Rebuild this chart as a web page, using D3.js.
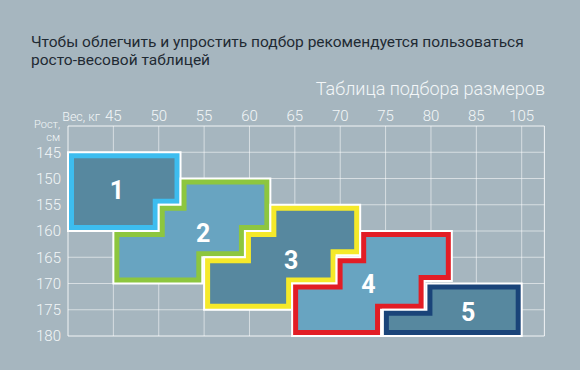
<!DOCTYPE html>
<html>
<head>
<meta charset="utf-8">
<script src="https://cdn.jsdelivr.net/npm/d3@7"></script>
<style>
  body { margin: 0; background: #a6b6bf; }
  svg { display: block; }
</style>
</head>
<body>
<div id="chart"></div>
<script>
// weight / height ticks
var weightTicks = [45, 50, 55, 60, 65, 70, 75, 80, 85, 105];
var heightTicks = [145, 150, 155, 160, 165, 170, 175, 180];

// size zones: [weight, height] outline vertices
var size1 = [[40,145],[52.4,145],[52.4,155],[50,155],[50,160],[40,160]];
var size2 = [[52.4,150],[62.3,150],[62.3,160],[59.5,160],[59.5,165],[54.8,165],[54.8,170],[45,170],[45,160],[50,160],[50,155],[52.4,155]];
var size3 = [[62.3,155],[72.2,155],[72.2,164.6],[69.6,164.6],[69.6,170],[64.7,170],[64.7,175],[55,175],[55,165],[59.5,165],[59.5,160],[62.3,160]];
var size4 = [[72.2,160],[82.3,160],[82.3,169.5],[79.3,169.5],[79.3,175],[74.5,175],[74.5,180],[64.7,180],[64.7,170],[69.6,170],[69.6,165],[72.2,165]];
var size5 = [[79.5,170],[105,170],[105,180],[74.7,180],[74.7,175],[79.5,175]];

var sizeNames = ["1", "2", "3", "4", "5"];
var labelW = [45.4, 54.9, 64.6, 73.1, 84.1];
var labelH = [152.2, 160.4, 165.5, 170.1, 175.4];

var strokes = ["#3dbdef", "#8dc63f", "#f5e92a", "#e21d25", "#1a4479"];
var fills = ["#57889f", "#68a4c1", "#57889f", "#68a4c1", "#57889f"];
var zones = [size1, size2, size3, size4, size5];

var width = 580, height = 370;
var svg = d3.select("#chart").append("svg")
  .attr("width", width)
  .attr("height", height);

svg.append("rect").attr("width", width).attr("height", height).attr("fill", "#a6b6bf");

// header
svg.append("text")
  .attr("x", 31).attr("y", 47)
  .attr("fill", "#1f2a33")
  .style("font", "15.5px Roboto")
  .text("Чтобы облегчить и упростить подбор рекомендуется пользоваться");
svg.append("text")
  .attr("x", 31).attr("y", 65)
  .attr("fill", "#1f2a33")
  .style("font", "15.5px Roboto")
  .text("росто-весовой таблицей");
svg.append("text")
  .attr("x", 545).attr("y", 95)
  .attr("text-anchor", "end")
  .attr("fill", "#f3f6f8")
  .style("font", "300 18px Roboto")
  .text("Таблица подбора размеров");

// scales (weight axis is not uniform: 85 -> 105 is one column)
var x = d3.scaleLinear()
  .domain([40, 85, 105])
  .range([68, 68 + 9 * 45.37, 68 + 10 * 45.37]);
var y = d3.scaleLinear()
  .domain([140, 180])
  .range([126, 336]);
var xRight = x(115);

var g = svg.append("g");

// grid
g.selectAll(".vgrid")
  .data(weightTicks)
  .enter().append("line")
  .attr("x1", function(d) { return x(d); })
  .attr("x2", function(d) { return x(d); })
  .attr("y1", y(140)).attr("y2", y(180))
  .attr("stroke", "rgba(255,255,255,0.55)");
g.selectAll(".hgrid")
  .data(heightTicks.slice(0, -1))
  .enter().append("line")
  .attr("x1", x(40)).attr("x2", xRight)
  .attr("y1", function(d) { return y(d); })
  .attr("y2", function(d) { return y(d); })
  .attr("stroke", "rgba(255,255,255,0.55)");

// frame
g.append("path")
  .attr("d", "M" + x(40) + "," + y(140) + "V" + y(180) + "H" + xRight + "V" + y(140) + "Z")
  .attr("fill", "none")
  .attr("stroke", "rgba(255,255,255,0.85)");

// zones
var defs = svg.append("defs");
var line = d3.line().x(function(d) { return x(d[0]); }).y(function(d) { return y(d[1]); });
zones.forEach(function(pts, i) {
  var p = line(pts) + "Z";
  defs.append("clipPath").attr("id", "clip" + i).append("path").attr("d", p);
  g.append("path").attr("d", p).attr("fill", fills[i]);
  g.append("path").attr("d", p)
    .attr("fill", "none")
    .attr("stroke", strokes[i])
    .attr("stroke-width", 12)
    .attr("clip-path", "url(#clip" + i + ")");
  g.append("path").attr("d", p)
    .attr("fill", "none")
    .attr("stroke", "#fff")
    .attr("stroke-width", 2);
});

g.selectAll(".zlabel")
  .data(sizeNames)
  .enter().append("text")
  .attr("x", function(d, i) { return x(labelW[i]); })
  .attr("y", function(d, i) { return y(labelH[i]); })
  .attr("dy", "0.36em")
  .attr("text-anchor", "middle")
  .attr("fill", "#fff")
  .style("font", "bold 25px Roboto")
  .text(function(d) { return d; });

// axis labels
var tickFont = "300 15px Roboto";
svg.selectAll(".wlab")
  .data(weightTicks)
  .enter().append("text")
  .attr("x", function(d) { return x(d); })
  .attr("y", 116)
  .attr("dy", "0.36em")
  .attr("text-anchor", "middle")
  .attr("fill", "#f3f6f8")
  .style("font", tickFont)
  .text(function(d) { return d; });
svg.selectAll(".hlab")
  .data(heightTicks)
  .enter().append("text")
  .attr("x", 61)
  .attr("y", function(d) { return y(d); })
  .attr("dy", "0.36em")
  .attr("text-anchor", "end")
  .attr("fill", "#f3f6f8")
  .style("font", tickFont)
  .text(function(d) { return d; });

svg.append("text")
  .attr("x", 100).attr("y", 116).attr("dy", "0.36em")
  .attr("text-anchor", "end")
  .attr("fill", "#f3f6f8")
  .style("font", "300 12.5px Roboto")
  .text("Вес, кг");
svg.append("text")
  .attr("x", 60).attr("y", 128)
  .attr("text-anchor", "end")
  .attr("fill", "#f3f6f8")
  .style("font", "300 11px Roboto")
  .text("Рост,");
svg.append("text")
  .attr("x", 60).attr("y", 141)
  .attr("text-anchor", "end")
  .attr("fill", "#f3f6f8")
  .style("font", "300 11px Roboto")
  .text("см");
</script>
</body>
</html>
